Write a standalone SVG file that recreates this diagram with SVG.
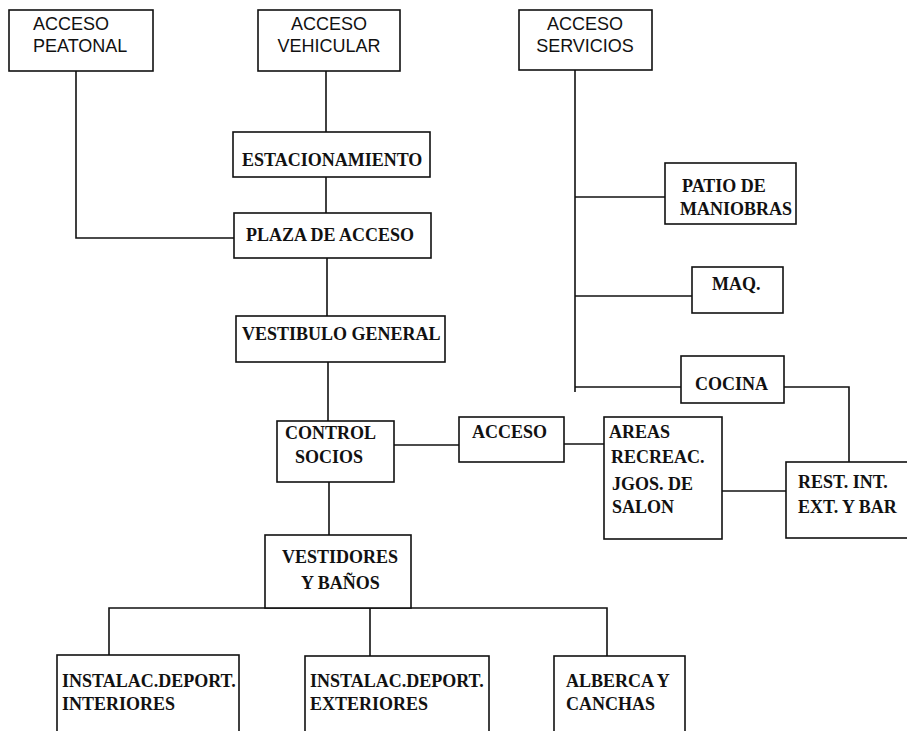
<svg xmlns="http://www.w3.org/2000/svg" width="907" height="731" viewBox="0 0 907 731">
<style>
.box{fill:#fff;stroke:#111;stroke-width:1.6}
.ln{fill:none;stroke:#111;stroke-width:1.6}
.sa{font-family:"Liberation Sans",Arial,sans-serif;font-size:18px;fill:#111}
.sr{font-family:"Liberation Serif","Times New Roman",serif;font-size:18px;font-weight:bold;fill:#111}
</style>
<rect width="907" height="731" fill="#fff"/>
<g id="connectors">
<path class="ln" d="M76 71 V238 H234"/>
<path class="ln" d="M326 71 V132"/>
<path class="ln" d="M326 177 V213"/>
<path class="ln" d="M327 258 V316"/>
<path class="ln" d="M328 362 V421"/>
<path class="ln" d="M329 482 V535"/>
<path class="ln" d="M394 445 H459"/>
<path class="ln" d="M564 444 H604"/>
<path class="ln" d="M722 491 H786"/>
<path class="ln" d="M575 70 V392"/>
<path class="ln" d="M575 197 H665"/>
<path class="ln" d="M575 296 H692"/>
<path class="ln" d="M575 387 H681"/>
<path class="ln" d="M784 387 H849 V462"/>
<path class="ln" d="M109 656 V608 H607 V656"/>
<path class="ln" d="M370 608 V656"/>
</g>
<g id="acceso-peatonal"><rect class="box" x="9" y="10" width="144" height="61"/><text class="sa" x="33" y="30">ACCESO</text><text class="sa" x="33" y="52">PEATONAL</text></g>
<g id="acceso-vehicular"><rect class="box" x="258" y="10" width="142" height="61"/><text class="sa" x="329" y="30" text-anchor="middle">ACCESO</text><text class="sa" x="329" y="52" text-anchor="middle">VEHICULAR</text></g>
<g id="acceso-servicios"><rect class="box" x="519" y="10" width="133" height="60"/><text class="sa" x="585" y="30" text-anchor="middle">ACCESO</text><text class="sa" x="585" y="52" text-anchor="middle">SERVICIOS</text></g>
<g id="estacionamiento"><rect class="box" x="233" y="132" width="197" height="45"/><text class="sr" x="242" y="166">ESTACIONAMIENTO</text></g>
<g id="plaza-acceso"><rect class="box" x="234" y="213" width="197" height="45"/><text class="sr" x="246" y="241">PLAZA DE ACCESO</text></g>
<g id="vestibulo-general"><rect class="box" x="236" y="316" width="209" height="46"/><text class="sr" x="242" y="340">VESTIBULO GENERAL</text></g>
<g id="control-socios"><rect class="box" x="277" y="421" width="117" height="61"/><text class="sr" x="285" y="439">CONTROL</text><text class="sr" x="295" y="463">SOCIOS</text></g>
<g id="acceso"><rect class="box" x="459" y="417" width="105" height="45"/><text class="sr" x="472" y="438">ACCESO</text></g>
<g id="areas-recreac"><rect class="box" x="604" y="417" width="118" height="122"/><text class="sr" x="609" y="438">AREAS</text><text class="sr" x="611" y="463">RECREAC.</text><text class="sr" x="612" y="490">JGOS. DE</text><text class="sr" x="612" y="513">SALON</text></g>
<g id="rest"><rect class="box" x="786" y="462" width="140" height="76"/><text class="sr" x="798" y="488">REST. INT.</text><text class="sr" x="798" y="513">EXT. Y BAR</text></g>
<g id="patio-maniobras"><rect class="box" x="665" y="163" width="131" height="61"/><text class="sr" x="682" y="192">PATIO DE</text><text class="sr" x="680" y="215">MANIOBRAS</text></g>
<g id="maq"><rect class="box" x="692" y="267" width="91" height="46"/><text class="sr" x="712" y="290">MAQ.</text></g>
<g id="cocina"><rect class="box" x="681" y="356" width="103" height="47"/><text class="sr" x="695" y="390">COCINA</text></g>
<g id="vestidores"><rect class="box" x="265" y="535" width="146" height="73"/><text class="sr" x="282" y="563">VESTIDORES</text><text class="sr" x="301" y="589">Y BAÑOS</text></g>
<g id="instalac-interiores"><rect class="box" x="57" y="655" width="182" height="90"/><text class="sr" x="62" y="687">INSTALAC.DEPORT.</text><text class="sr" x="62" y="710">INTERIORES</text></g>
<g id="instalac-exteriores"><rect class="box" x="305" y="656" width="184" height="90"/><text class="sr" x="310" y="687">INSTALAC.DEPORT.</text><text class="sr" x="310" y="710">EXTERIORES</text></g>
<g id="alberca-canchas"><rect class="box" x="554" y="656" width="131" height="90"/><text class="sr" x="566" y="687">ALBERCA Y</text><text class="sr" x="566" y="710">CANCHAS</text></g>
</svg>
